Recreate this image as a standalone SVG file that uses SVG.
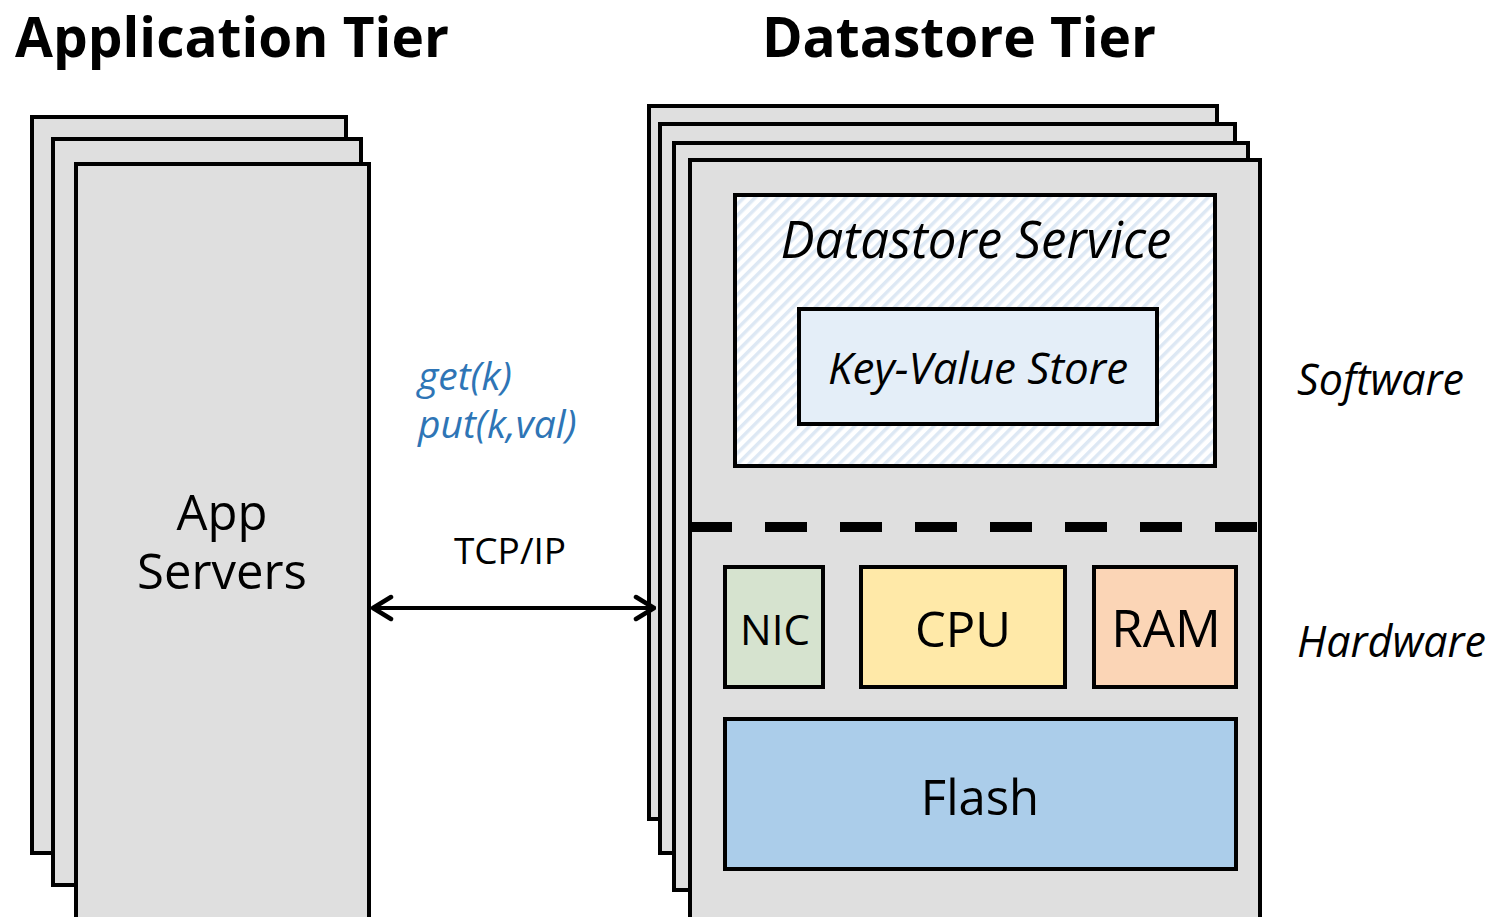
<svg xmlns="http://www.w3.org/2000/svg" width="1499" height="917" viewBox="0 0 1499 917">
<defs>
<style>
.box{fill:#dfdfdf;stroke:#000;stroke-width:4}
.t{font-family:"Open Sans",Lato,sans-serif;fill:#000}
.it{font-style:italic}
.comp{stroke:#000;stroke-width:4}
.blue{fill:#2e75b6}
</style>
<pattern id="hatch" width="8" height="8" patternUnits="userSpaceOnUse" patternTransform="rotate(45)">
<rect width="8" height="8" fill="#ffffff"/>
<rect width="3.5" height="8" fill="#dde8f4"/>
</pattern>
<marker id="ah" viewBox="0 0 24 30" refX="22" refY="15" markerWidth="24" markerHeight="30" markerUnits="userSpaceOnUse" orient="auto-start-reverse">
<path d="M4,4 L22,15 L4,26" fill="none" stroke="#000" stroke-width="4.5" stroke-linecap="round" stroke-linejoin="round"/>
</marker>
</defs>
<rect width="1499" height="917" fill="#fff"/>
<text class="t" x="15" y="57" font-size="55" font-weight="bold">Application Tier</text>
<text class="t" x="959" y="57" font-size="55" font-weight="bold" text-anchor="middle">Datastore Tier</text>
<g id="app-servers">
<rect class="box" x="32" y="117" width="314" height="736"/>
<rect class="box" x="53" y="139" width="308" height="746"/>
<rect class="box" x="76" y="164" width="293" height="760"/>
<text class="t" x="222" y="530" font-size="49" text-anchor="middle">App</text>
<text class="t" x="222" y="589" font-size="49" text-anchor="middle">Servers</text>
</g>
<g id="datastore-servers">
<rect class="box" x="649" y="106" width="568" height="713"/>
<rect class="box" x="660" y="124" width="575" height="729"/>
<rect class="box" x="674" y="143" width="574" height="747"/>
<rect class="box" x="690" y="160" width="570" height="764"/>
</g>
<g id="datastore-service">
<rect x="735" y="195" width="480" height="271" fill="url(#hatch)" stroke="#000" stroke-width="4"/>
<text class="t it" x="976" y="258" font-size="51" text-anchor="middle">Datastore Service</text>
</g>
<g id="kv-store">
<rect x="799" y="309" width="358" height="115" fill="#e4eef8" stroke="#000" stroke-width="4"/>
<text class="t it" x="978" y="384" font-size="44" text-anchor="middle">Key-Value Store</text>
</g>
<g id="divider">
<line x1="690" y1="527" x2="1260" y2="527" stroke="#000" stroke-width="10" stroke-dasharray="42 33"/>
</g>
<g id="nic">
<rect class="comp" x="725" y="567" width="98" height="120" fill="#d6e3cf"/>
<text class="t" x="775" y="645" font-size="42" text-anchor="middle">NIC</text>
</g>
<g id="cpu">
<rect class="comp" x="861" y="567" width="204" height="120" fill="#ffe9a8"/>
<text class="t" x="963" y="647" font-size="49" text-anchor="middle">CPU</text>
</g>
<g id="ram">
<rect class="comp" x="1094" y="567" width="142" height="120" fill="#fbd5b6"/>
<text class="t" x="1166" y="647" font-size="51" text-anchor="middle">RAM</text>
</g>
<g id="flash">
<rect class="comp" x="725" y="719" width="511" height="150" fill="#abcdea"/>
<text class="t" x="980" y="815" font-size="49" text-anchor="middle">Flash</text>
</g>
<g id="labels">
<text class="t it" x="1297" y="395" font-size="43">Software</text>
<text class="t it" x="1297" y="657" font-size="43">Hardware</text>
<text class="t it blue" x="418" y="390" font-size="39" style="fill:#2e75b6">get(k)</text>
<text class="t it blue" x="418" y="438" font-size="39" style="fill:#2e75b6">put(k,val)</text>
<text class="t" x="510" y="564" font-size="37" text-anchor="middle">TCP/IP</text>
</g>
<g id="connectors">
<line x1="373" y1="608" x2="654" y2="608" stroke="#000" stroke-width="4" marker-start="url(#ah)" marker-end="url(#ah)"/>
</g>
</svg>
